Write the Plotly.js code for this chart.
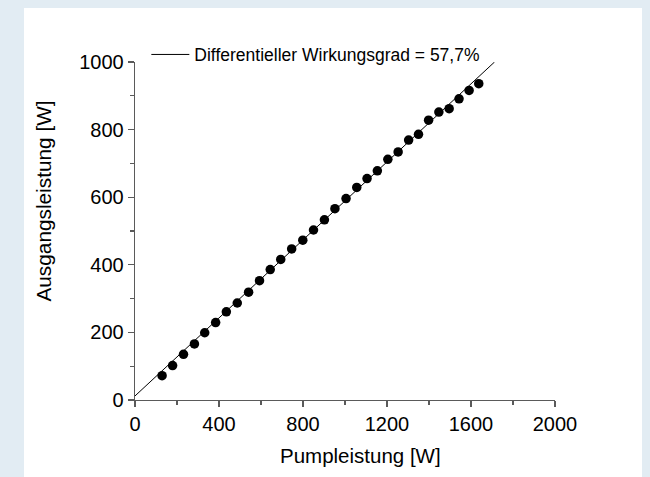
<!DOCTYPE html>
<html>
<head>
<meta charset="utf-8">
<script src="https://cdn.plot.ly/plotly-3.0.1.min.js"></script>
<style>
  html, body { margin: 0; padding: 0; background: #e2ecf3; width: 650px; height: 477px; overflow: hidden; }
  #chart { position: absolute; left: 24px; top: 8px; width: 618px; height: 469px; background: #ffffff; }
</style>
</head>
<body>
<div id="chart"></div>
<script>
// Measured data: pump power [W] vs. output power [W]
const pumpPower = [129, 179, 231, 283, 332, 384, 435, 487, 541, 593, 644, 694, 746, 799, 850,
                   902, 952, 1005, 1056, 1105, 1154, 1204, 1253, 1303, 1350, 1398, 1447, 1496, 1543, 1591, 1637];
const outputPower = [72, 102, 135, 166, 199, 229, 261, 287, 319, 353, 386, 416, 447, 473, 503,
                     533, 566, 596, 629, 655, 678, 712, 734, 769, 786, 828, 852, 862, 891, 916, 936];
// Linear fit (differential efficiency 57.7 %)
const fitX = [0, 1712];
const fitY = [12, 1000];
const legendLabel = "Differentieller Wirkungsgrad = 57,7%";
const xTitle = "Pumpleistung [W]";
const yTitle = "Ausgangsleistung [W]";

const FONT = "Liberation Sans, Arial, Helvetica, sans-serif";
const AXC = "#5a5a5a";

const traces = [
  {
    x: fitX, y: fitY, mode: "lines", name: legendLabel,
    line: { color: "#000000", width: 1 }, showlegend: true, hoverinfo: "skip"
  },
  {
    x: pumpPower, y: outputPower, mode: "markers", name: "Messwerte",
    marker: { color: "#000000", size: 9.5, symbol: "circle" }, showlegend: false
  }
];

const axisCommon = {
  showgrid: false, zeroline: false, showline: true, linecolor: AXC, linewidth: 1.3,
  ticks: "outside", ticklen: 6, tickwidth: 1.3, tickcolor: AXC,
  tickfont: { family: FONT, size: 20, color: "#000000" },
  fixedrange: true
};

const layout = {
  width: 618, height: 469,
  margin: { l: 111, r: 87, t: 54, b: 77, pad: 0 },
  paper_bgcolor: "#ffffff", plot_bgcolor: "#ffffff",
  font: { family: FONT, color: "#000000" },
  xaxis: Object.assign({}, axisCommon, {
    range: [0, 2000], tickmode: "linear", tick0: 0, dtick: 400,
    minor: { dtick: 200, ticks: "outside", ticklen: 4, tickwidth: 1.2, tickcolor: AXC }
  }),
  yaxis: Object.assign({}, axisCommon, {
    range: [0, 1000], tickmode: "linear", tick0: 0, dtick: 200,
    minor: { dtick: 100, ticks: "outside", ticklen: 4, tickwidth: 1.2, tickcolor: AXC }
  }),
  legend: {
    x: 0.027, y: 1.022, xanchor: "left", yanchor: "middle",
    bgcolor: "rgba(0,0,0,0)", borderwidth: 0,
    font: { family: FONT, size: 17.5, color: "#000000" },
    itemwidth: 38
  },
  annotations: [
    { text: xTitle, xref: "paper", yref: "paper", x: 0.538, y: -0.164,
      xanchor: "center", yanchor: "middle", showarrow: false,
      font: { family: FONT, size: 20.5, color: "#000000" } },
    { text: yTitle, xref: "paper", yref: "paper", x: -0.2167, y: 0.59,
      xanchor: "center", yanchor: "middle", showarrow: false, textangle: -90,
      font: { family: FONT, size: 20.8, color: "#000000" } }
  ],
  showlegend: true
};

Plotly.newPlot("chart", traces, layout, { displayModeBar: false, staticPlot: true });
</script>
</body>
</html>
